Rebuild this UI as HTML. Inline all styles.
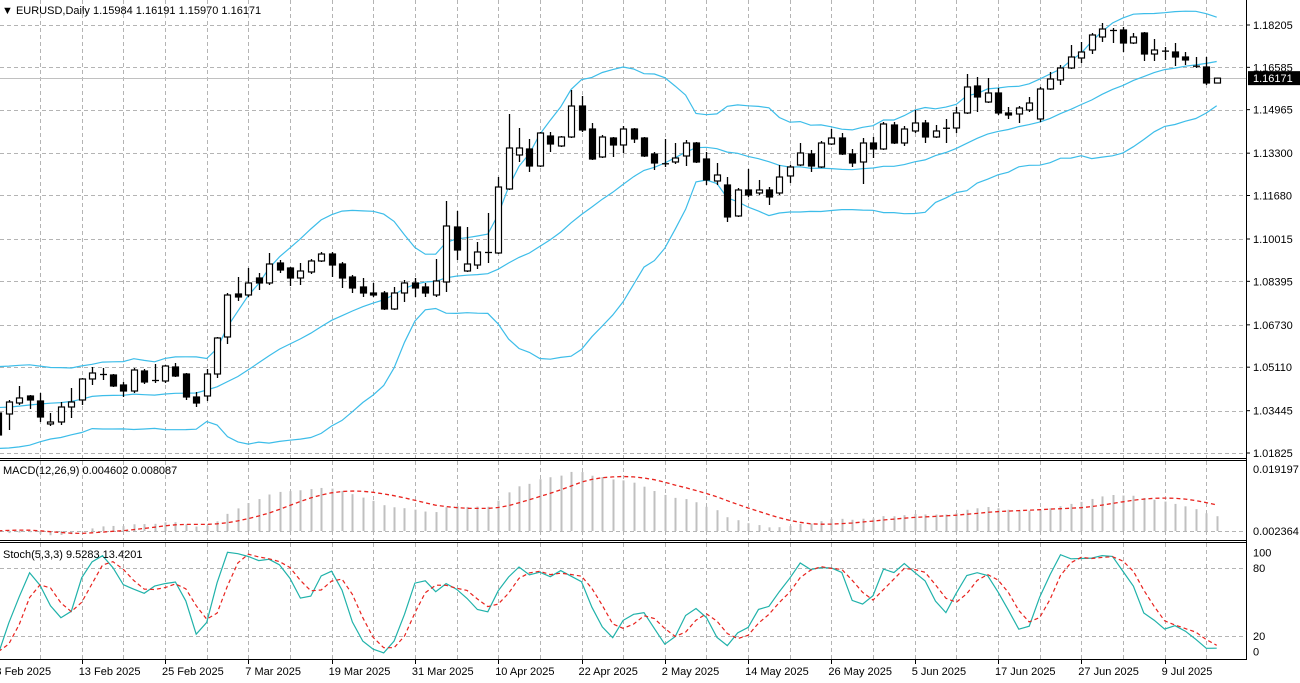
<!DOCTYPE html>
<html><head><meta charset="utf-8">
<style>
html,body{margin:0;padding:0;background:#fff;}
svg{display:block;font-family:"Liberation Sans",sans-serif;}
</style></head>
<body>
<svg id="chart" width="1300" height="683" viewBox="0 0 1300 683" xmlns="http://www.w3.org/2000/svg">
<rect x="0" y="0" width="1300" height="683" fill="#fff"/>
<g id="grid"></g>
<g id="bands"></g>
<g id="candles"></g>
<g id="macd"></g>
<g id="stoch"></g>
<g id="frame"></g>
<g id="labels"></g>
</svg>
<script>
// ---- data (EURUSD daily, 3 Feb 2025 onward) ----
const preClose=[1.0497,1.0512,1.0511,1.0586,1.0566,1.0555,1.0528,1.0496,1.0468,1.0500,1.0513,1.0517,1.0351,1.0365,1.0430,1.0407,1.0405,1.0420,1.0430,1.0408,1.0354,1.0265,1.0308,1.0389,1.0343,1.0318,1.0300,1.0243,1.0244,1.0309,1.0289,1.0300,1.0273,1.0416,1.0428,1.0407,1.0415,1.0496,1.0494,1.0430,1.0424,1.0390,1.0362];
const opens=[1.03356,1.03318,1.03739,1.04007,1.03816,1.02936,1.03012,1.03586,1.03854,1.04658,1.04849,1.04811,1.04428,1.04198,1.04964,1.04581,1.04581,1.05117,1.04849,1.03969,1.04007,1.04849,1.06265,1.07911,1.07872,1.08523,1.08332,1.09097,1.08906,1.08523,1.08753,1.09174,1.09441,1.09059,1.08561,1.08179,1.07949,1.07949,1.07337,1.07949,1.08332,1.08179,1.07872,1.08370,1.10475,1.08791,1.09020,1.09518,1.09480,1.11929,1.13230,1.13460,1.12809,1.13957,1.13575,1.13919,1.15105,1.14225,1.13154,1.13881,1.13613,1.14225,1.13881,1.13268,1.12886,1.12962,1.13192,1.13689,1.13077,1.12235,1.12082,1.10896,1.11891,1.11776,1.11891,1.11776,1.12427,1.12847,1.13268,1.12771,1.13651,1.13881,1.13268,1.12962,1.13689,1.13460,1.14378,1.13689,1.14149,1.14455,1.13919,1.14263,1.14263,1.14838,1.15871,1.15258,1.15603,1.14838,1.14799,1.14952,1.14608,1.15756,1.16100,1.16560,1.16942,1.17249,1.17746,1.18014,1.18014,1.17516,1.17899,1.17095,1.17210,1.17172,1.16981,1.16636,1.16598,1.15984];
const highs=[1.03663,1.03854,1.04390,1.04045,1.04122,1.03356,1.03777,1.04313,1.04696,1.05117,1.05079,1.04849,1.04543,1.05079,1.05040,1.05232,1.05193,1.05270,1.04887,1.04160,1.05040,1.06265,1.07949,1.08561,1.08906,1.08714,1.09480,1.09212,1.08944,1.09097,1.09250,1.09518,1.09518,1.09135,1.08638,1.08523,1.08332,1.08025,1.08179,1.08446,1.08523,1.08332,1.09250,1.11470,1.11087,1.10475,1.09901,1.11011,1.12388,1.14799,1.14263,1.13843,1.14110,1.14110,1.13957,1.15718,1.15488,1.14455,1.13996,1.13919,1.14340,1.14263,1.13919,1.13345,1.13843,1.13689,1.13804,1.13728,1.13345,1.12924,1.12388,1.11967,1.12694,1.12274,1.12005,1.12847,1.12847,1.13689,1.13422,1.13766,1.14225,1.14072,1.13460,1.13881,1.13919,1.14493,1.14493,1.14340,1.14952,1.14570,1.14378,1.14608,1.15067,1.16330,1.16215,1.16177,1.15794,1.15067,1.15105,1.15450,1.15833,1.16407,1.16674,1.17440,1.17555,1.17899,1.18282,1.18090,1.18129,1.17899,1.17937,1.17669,1.17363,1.17516,1.17172,1.16981,1.16981,1.16191];
const lows=[1.02323,1.02706,1.03663,1.03510,1.03012,1.02859,1.02897,1.03165,1.03663,1.04428,1.04619,1.04352,1.03969,1.04122,1.04466,1.04505,1.04505,1.04734,1.03854,1.03586,1.03816,1.04696,1.05997,1.07643,1.07796,1.08064,1.08255,1.08714,1.08217,1.08255,1.08676,1.09135,1.08561,1.08140,1.07949,1.07796,1.07796,1.07298,1.07298,1.07604,1.07796,1.07796,1.07796,1.07987,1.09212,1.08753,1.08867,1.09097,1.09441,1.11891,1.12962,1.12580,1.12771,1.13345,1.13536,1.13881,1.14110,1.13039,1.13115,1.13154,1.13307,1.13689,1.13154,1.12656,1.12771,1.12886,1.12809,1.12924,1.12082,1.12082,1.10666,1.10858,1.11623,1.11699,1.11317,1.11699,1.12159,1.12809,1.12580,1.12733,1.13613,1.13230,1.12771,1.12120,1.13115,1.13422,1.13651,1.13575,1.14072,1.13689,1.13881,1.13689,1.14072,1.14799,1.14876,1.15220,1.14761,1.14608,1.14455,1.14876,1.14493,1.15718,1.15909,1.16521,1.16751,1.17095,1.17555,1.17516,1.17172,1.17478,1.16828,1.16828,1.16866,1.16636,1.16674,1.16560,1.15909,1.15970];
const closes=[1.02515,1.03777,1.03931,1.03854,1.03203,1.03012,1.03586,1.03777,1.04658,1.04887,1.04811,1.04390,1.04198,1.05002,1.04543,1.04619,1.05155,1.04772,1.03969,1.03739,1.04849,1.06227,1.07872,1.07796,1.08332,1.08332,1.09059,1.08829,1.08523,1.08791,1.09174,1.09441,1.09020,1.08523,1.08140,1.07949,1.07872,1.07337,1.07949,1.08332,1.08140,1.07949,1.08408,1.10513,1.09594,1.09059,1.09518,1.09480,1.12005,1.13498,1.13498,1.12809,1.14072,1.13651,1.13919,1.15105,1.14187,1.13077,1.13919,1.13613,1.14225,1.13843,1.13192,1.12924,1.12900,1.13115,1.13689,1.12962,1.12274,1.12465,1.10858,1.11891,1.11699,1.11891,1.11623,1.12388,1.12771,1.13307,1.12809,1.13689,1.13881,1.13268,1.12924,1.13689,1.13460,1.14417,1.13689,1.14225,1.14455,1.13919,1.14149,1.14245,1.14838,1.15833,1.15450,1.15603,1.14838,1.14761,1.15029,1.15220,1.15756,1.16139,1.16560,1.16981,1.17172,1.17823,1.18052,1.17976,1.17516,1.17746,1.17095,1.17249,1.17200,1.16981,1.16866,1.16620,1.15986,1.16171];
const priceTicks=["1.18205","1.16585","1.14965","1.13300","1.11680","1.10015","1.08395","1.06730","1.05110","1.03445","1.01825"];
const dateLabels=["3 Feb 2025","13 Feb 2025","25 Feb 2025","7 Mar 2025","19 Mar 2025","31 Mar 2025","10 Apr 2025","22 Apr 2025","2 May 2025","14 May 2025","26 May 2025","5 Jun 2025","17 Jun 2025","27 Jun 2025","9 Jul 2025"];
const dateLabelBars=[0,8,16,24,32,40,48,56,64,72,80,88,96,104,112];
const stochTicks=[100,80,20,0];

// ---- axes ----
const NS="http://www.w3.org/2000/svg";
const BAR=10.4125, X0=-1.6, PLOT_R=1246;
const xOf=i=>X0+BAR*i;
const yP=p=>25+(1.18205-p)/0.0003827;
const MACD_MAX=0.019197;
const yM=v=>531-v*(62/MACD_MAX);
const yS=v=>658.7-v*1.1333;
function mk(tag,attrs,parent){const e=document.createElementNS(NS,tag);for(const k in attrs)e.setAttribute(k,attrs[k]);parent.appendChild(e);return e;}
const G=id=>document.getElementById(id);
const N=closes.length;

// grid
const grid=G('grid');
for(let i=4;xOf(i)<PLOT_R;i+=4){
  const x=Math.round(xOf(i))+0.5;
  [[0,458],[461,540],[543,659]].forEach(([a,b])=>{
    const l=mk('line',{x1:x,x2:x,y1:a,y2:b,stroke:'#b4b4b4','stroke-dasharray':'4,3'},grid);
    
    
  });
}
priceTicks.forEach(t=>{
  const y=Math.round(yP(parseFloat(t)))+0.5;
  const l=mk('line',{x1:0,x2:PLOT_R,y1:y,y2:y,stroke:'#b4b4b4','stroke-dasharray':'4,3'},grid);
  
  
});
[80,20].forEach(v=>{
  const y=Math.round(yS(v))+0.5;
  const l=mk('line',{x1:0,x2:PLOT_R,y1:y,y2:y,stroke:'#b4b4b4','stroke-dasharray':'4,3'},grid);
  
  
});
{
  const y=Math.round(yM(0))+0.5;
  const l=mk('line',{x1:0,x2:PLOT_R,y1:y,y2:y,stroke:'#b4b4b4','stroke-dasharray':'4,3'},grid);
  
  
}
// current price line
{
  const y=Math.round(yP(closes[N-1]))+0.5;
  const l=mk('line',{x1:0,x2:PLOT_R,y1:y,y2:y,stroke:'#c0c0c0'},grid);
  
  
}

// full close series including history
const allC=preClose.concat(closes);
const allH=preClose.concat(highs);
const allL=preClose.concat(lows);
const OFF=preClose.length;

// Bollinger (20,2)
const mid=[],up=[],lo=[];
for(let i=0;i<N;i++){
  const j=i+OFF;let s=0;for(let k=j-19;k<=j;k++)s+=allC[k];const m=s/20;
  let v=0;for(let k=j-19;k<=j;k++)v+=(allC[k]-m)**2;const sd=Math.sqrt(v/20);
  mid.push(m);up.push(m+2*sd);lo.push(m-2*sd);
}
const bands=G('bands');
[[up,'bollinger-upper'],[mid,'bollinger-middle'],[lo,'bollinger-lower']].forEach(([arr,name])=>{
  const pts=arr.map((v,i)=>xOf(i).toFixed(1)+','+yP(v).toFixed(1)).join(' ');
  const pl=mk('polyline',{points:pts,fill:'none',stroke:'#3dbde9','stroke-width':1.2},bands);
  
  
});

// candles
const cg=G('candles');
for(let i=0;i<N;i++){
  const x=Math.round(xOf(i))+0.5;
  const o=opens[i],c=closes[i];
  const g=mk('g',{},cg);
  
  
  mk('line',{x1:x,x2:x,y1:yP(highs[i]),y2:yP(lows[i]),stroke:'#000','stroke-width':1.3},g);
  const t=yP(Math.max(o,c)),b=yP(Math.min(o,c));
  if(b-t<1.2){mk('line',{x1:x-3.5,x2:x+3.5,y1:(t+b)/2,y2:(t+b)/2,stroke:'#000','stroke-width':1.3},g);}
  else mk('rect',{x:x-3,y:t,width:6,height:b-t,fill:c>=o?'#fff':'#000',stroke:'#000','stroke-width':1.2},g);
}

// MACD (12,26,9)
function ema(arr,n){const k=2/(n+1);const r=[arr[0]];for(let i=1;i<arr.length;i++)r.push(arr[i]*k+r[i-1]*(1-k));return r;}
const e12=ema(allC,12),e26=ema(allC,26);
const macdAll=allC.map((_,i)=>e12[i]-e26[i]);
const sigAll=macdAll.map((_,i)=>{if(i<8)return macdAll[i];let s=0;for(let k=i-8;k<=i;k++)s+=macdAll[k];return s/9;});
const mg=G('macd');
for(let i=0;i<N;i++){
  const x=Math.round(xOf(i))+0.5,v=macdAll[i+OFF];
  const r=mk('line',{x1:x,x2:x,y1:yM(0),y2:Math.max(462,yM(v)),stroke:'#c0c0c0','stroke-width':2},mg);
  
  
}
{
  const pts=closes.map((_,i)=>xOf(i).toFixed(1)+','+Math.max(462,yM(sigAll[i+OFF])).toFixed(1)).join(' ');
  const pl=mk('polyline',{points:pts,fill:'none',stroke:'#e8231e','stroke-width':1.3,'stroke-dasharray':'4,3'},mg);
  
  
}

// Stochastic (5,3,3)
const num=[],den=[];
for(let j=0;j<allC.length;j++){
  let hh=-1e9,ll=1e9;for(let k=Math.max(0,j-4);k<=j;k++){hh=Math.max(hh,allH[k]);ll=Math.min(ll,allL[k]);}
  num.push(allC[j]-ll);den.push(hh-ll);
}
const kAll=num.map((_,j)=>{let a=0,b=0;for(let k=Math.max(0,j-2);k<=j;k++){a+=num[k];b+=den[k];}return b>0?100*a/b:50;});
const dAll=kAll.map((_,j)=>{let s=0,c=0;for(let k=Math.max(0,j-2);k<=j;k++){s+=kAll[k];c++;}return s/c;});
const sg=G('stoch');
[[kAll,'#20b2aa','stoch-main-line',null],[dAll,'#e8231e','stoch-signal-line','4,3']].forEach(([arr,col,name,dash])=>{
  const pts=closes.map((_,i)=>xOf(i).toFixed(1)+','+yS(arr[i+OFF]).toFixed(1)).join(' ');
  const a={points:pts,fill:'none',stroke:col,'stroke-width':1.2};if(dash)a['stroke-dasharray']=dash;
  const pl=mk('polyline',a,sg);
  
  
});

// frame
const fr=G('frame');
mk('rect',{x:PLOT_R,y:0,width:54,height:683,fill:'#fff'},fr);
mk('rect',{x:0,y:659.5,width:1300,height:24,fill:'#fff'},fr);
[[0,458.5,PLOT_R,458.5],[0,460.5,PLOT_R,460.5],[0,540.5,PLOT_R,540.5],[0,542.5,PLOT_R,542.5],[0,659.5,PLOT_R,659.5],[PLOT_R+0.5,0,PLOT_R+0.5,660]].forEach(([a,b,c,d])=>{
  const l=mk('line',{x1:a,y1:b,x2:c,y2:d,stroke:'#000','stroke-width':1},fr);
  
  
});

// labels
const lb=G('labels');
function txt(s,x,y,name,extra){const t=mk('text',Object.assign({x:x,y:y,'font-size':11,fill:'#000'},extra||{}),lb);t.textContent=s;return t;}
priceTicks.forEach(t=>{const y=yP(parseFloat(t));
  const tk=mk('line',{x1:PLOT_R,x2:PLOT_R+4,y1:y,y2:y,stroke:'#000'},lb);
  
  
  txt(t,1253,y+4,'price-axis-label');});
{
  const y=yP(closes[N-1]);
  const r=mk('rect',{x:1248,y:y-7,width:52,height:14,fill:'#000'},lb);
  
  
  txt(closes[N-1].toFixed(5),1253,y+4,'current-price-label',{fill:'#fff'});
}
dateLabels.forEach((s,k)=>{const x=xOf(dateLabelBars[k]);
  const tk=mk('line',{x1:Math.round(x)+0.5,x2:Math.round(x)+0.5,y1:659,y2:664,stroke:'#000'},lb);
  
  
  txt(s,x-3,675,'date-axis-label');});
txt('0.019197',1253,473,'macd-axis-max');
txt('0.002364',1253,535,'macd-axis-min');
stochTicks.forEach(v=>txt(String(v),1253,yS(v)+(v===100?11:(v===0?-3:4)),'stoch-axis-label'));
txt('\u25BC EURUSD,Daily  1.15984 1.16191 1.15970 1.16171',2,14,'chart-title');
txt('MACD(12,26,9) 0.004602 0.008087',3,474,'macd-title');
txt('Stoch(5,3,3) 9.5283 13.4201',3,558,'stoch-title');
</script>
</body></html>
